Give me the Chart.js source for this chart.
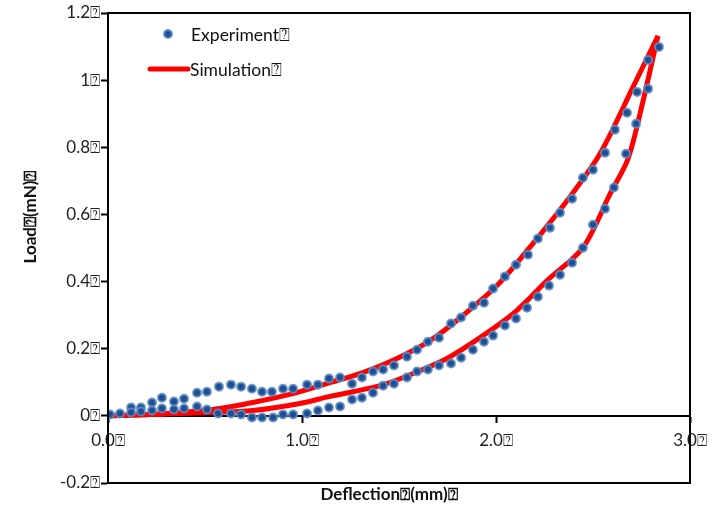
<!DOCTYPE html>
<html>
<head>
<meta charset="utf-8">
<script src="https://cdn.jsdelivr.net/npm/chart.js@4.4.1/dist/chart.umd.min.js"></script>
<style>
  html, body { margin: 0; padding: 0; background: #fff; }
</style>
</head>
<body>
<canvas id="hysteresis" width="712" height="506"></canvas>
<script>
// Measured load-deflection loop (loading branch then unloading branch)
const expLoadX = [0.010, 0.062, 0.119, 0.170, 0.227, 0.278, 0.340, 0.392, 0.459, 0.510, 0.572, 0.634, 0.686, 0.742, 0.794, 0.845, 0.902, 0.954, 1.026, 1.082, 1.139, 1.196, 1.258, 1.309, 1.366, 1.418, 1.474, 1.541, 1.593, 1.649, 1.706, 1.768, 1.820, 1.881, 1.938, 1.985, 2.046, 2.103, 2.165, 2.216, 2.278, 2.330, 2.392, 2.448, 2.500, 2.562, 2.613, 2.675, 2.727, 2.784, 2.840];
const expLoadY = [0.004, 0.007, 0.025, 0.025, 0.040, 0.054, 0.043, 0.051, 0.069, 0.072, 0.087, 0.093, 0.087, 0.081, 0.072, 0.072, 0.081, 0.081, 0.093, 0.093, 0.111, 0.114, 0.096, 0.114, 0.132, 0.138, 0.150, 0.176, 0.197, 0.221, 0.233, 0.275, 0.293, 0.328, 0.337, 0.379, 0.415, 0.450, 0.480, 0.528, 0.560, 0.605, 0.647, 0.709, 0.733, 0.784, 0.852, 0.903, 0.965, 1.060, 1.099];
const expUnloadX = [2.784, 2.722, 2.670, 2.608, 2.562, 2.500, 2.448, 2.392, 2.330, 2.273, 2.216, 2.160, 2.103, 2.046, 1.985, 1.938, 1.881, 1.820, 1.768, 1.706, 1.649, 1.593, 1.541, 1.474, 1.418, 1.366, 1.309, 1.258, 1.196, 1.139, 1.082, 1.026, 0.954, 0.902, 0.851, 0.794, 0.742, 0.686, 0.634, 0.567, 0.510, 0.459, 0.392, 0.340, 0.278, 0.227, 0.170, 0.119];
const expUnloadY = [0.974, 0.870, 0.781, 0.680, 0.617, 0.569, 0.501, 0.456, 0.420, 0.388, 0.355, 0.322, 0.290, 0.269, 0.239, 0.221, 0.197, 0.173, 0.156, 0.150, 0.138, 0.132, 0.114, 0.096, 0.090, 0.069, 0.054, 0.049, 0.028, 0.025, 0.016, 0.007, 0.004, 0.004, -0.005, -0.005, -0.005, 0.004, 0.007, 0.007, 0.019, 0.028, 0.022, 0.019, 0.022, 0.016, 0.013, 0.010];

// Simulated loop
const simLoadX = [0, 0.216, 0.541, 0.747, 0.954, 1.144, 1.314, 1.490, 1.660, 1.830, 2.005, 2.160, 2.366, 2.536, 2.706, 2.835];
const simLoadY = [0, 0.004, 0.019, 0.040, 0.066, 0.099, 0.129, 0.171, 0.224, 0.299, 0.388, 0.492, 0.641, 0.781, 0.979, 1.132];
const simUnloadX = [2.835, 2.742, 2.680, 2.588, 2.448, 2.263, 2.175, 2.088, 1.918, 1.747, 1.572, 1.402, 1.144, 0.990, 0.747, 0.526, 0];
const simUnloadY = [1.132, 0.899, 0.765, 0.661, 0.501, 0.403, 0.352, 0.304, 0.233, 0.171, 0.126, 0.090, 0.058, 0.037, 0.016, 0.010, 0];

// Axis ticks
const xTickValues = [0, 1, 2, 3];
const xTickLabels = ['0.0', '1.0', '2.0', '3.0'];
const yTickValues = [-0.2, 0, 0.2, 0.4, 0.6, 0.8, 1, 1.2];
const yTickLabels = ['-0.2', '0', '0.2', '0.4', '0.6', '0.8', '1', '1.2'];

const MARK = '\u2370';
const FONT = 'Lato, "Open Sans", sans-serif';

function zip(xs, ys) {
    return xs.map((x, i) => ({ x: x, y: ys[i] }));
}

// Box around the plot area
const frame = {
    id: 'frame',
    afterDraw(chart) {
        const a = chart.chartArea, ctx = chart.ctx;
        ctx.save();
        ctx.strokeStyle = '#000';
        ctx.lineWidth = 2;
        ctx.strokeRect(a.left, a.top, a.right - a.left, a.bottom - a.top);
        ctx.restore();
    }
};

// Axis titles, placed a bit off centre like the original figure
const axisTitles = {
    id: 'axisTitles',
    afterDraw(chart) {
        const a = chart.chartArea, ctx = chart.ctx;
        ctx.save();
        ctx.fillStyle = '#111';
        ctx.font = 'bold 17px ' + FONT;
        ctx.textAlign = 'center';
        ctx.textBaseline = 'middle';
        ctx.fillText('Deflection' + MARK + '(mm)' + MARK, (a.left + a.right) / 2 - 10, a.bottom + 12);
        ctx.translate(31, (a.top + a.bottom) / 2 - 31);
        ctx.rotate(-Math.PI / 2);
        ctx.fillText('Load' + MARK + '(mN)' + MARK, 0, 0);
        ctx.restore();
    }
};

// Legend sitting inside the plot, top left
const innerLegend = {
    id: 'innerLegend',
    afterDraw(chart) {
        const a = chart.chartArea, ctx = chart.ctx;
        const px = a.left + 60, py = a.top + 21;
        ctx.save();
        ctx.beginPath();
        ctx.arc(px, py, 4, 0, Math.PI * 2);
        ctx.fillStyle = '#1f4f8f';
        ctx.fill();
        ctx.lineWidth = 2;
        ctx.strokeStyle = 'rgba(95,140,200,0.85)';
        ctx.stroke();

        ctx.beginPath();
        ctx.moveTo(a.left + 42, py + 35);
        ctx.lineTo(a.left + 80, py + 35);
        ctx.lineWidth = 5;
        ctx.lineCap = 'round';
        ctx.strokeStyle = '#ff0000';
        ctx.stroke();

        ctx.fillStyle = '#111';
        ctx.font = '17.5px ' + FONT;
        ctx.textBaseline = 'middle';
        ctx.fillText('Experiment' + MARK, a.left + 83, py + 1);
        ctx.fillText('Simulation' + MARK, a.left + 82, py + 36);
        ctx.restore();
    }
};

const ctx = document.getElementById('hysteresis').getContext('2d');
new Chart(ctx, {
    type: 'scatter',
    data: {
        datasets: [{
            label: 'Experiment',
            data: zip(expLoadX, expLoadY).concat(zip(expUnloadX, expUnloadY)),
            pointRadius: 4,
            pointBorderWidth: 2,
            pointBackgroundColor: '#1f4f8f',
            pointBorderColor: 'rgba(95,140,200,0.85)',
            order: 0
        }, {
            label: 'Simulation',
            data: zip(simLoadX, simLoadY),
            showLine: true,
            pointRadius: 0,
            borderColor: '#ff0000',
            borderWidth: 5,
            tension: 0.3,
            order: 1
        }, {
            label: 'Simulation unload',
            data: zip(simUnloadX, simUnloadY),
            showLine: true,
            pointRadius: 0,
            borderColor: '#ff0000',
            borderWidth: 5,
            tension: 0.3,
            order: 1
        }]
    },
    options: {
        responsive: false,
        animation: false,
        layout: { padding: { top: 13, right: 22, left: 0, bottom: 23 } },
        plugins: {
            legend: { display: false },
            tooltip: { enabled: false }
        },
        scales: {
            x: {
                type: 'linear',
                position: { y: 0 },
                min: 0,
                max: 3,
                afterBuildTicks: s => { s.ticks = xTickValues.map(v => ({ value: v })); },
                // let the last label hang over the right edge instead of shrinking the plot
                afterFit: s => { s.paddingLeft = 0; s.paddingRight = 0; },
                ticks: {
                    callback: (v, i) => xTickLabels[i] + MARK,
                    font: { family: FONT, size: 17 },
                    color: '#222',
                    maxRotation: 0,
                    padding: 8
                },
                grid: { drawOnChartArea: false, tickLength: 6, tickColor: '#000', tickWidth: 2 },
                border: { color: '#000', width: 2 }
            },
            y: {
                type: 'linear',
                position: 'left',
                min: -0.2,
                max: 1.2,
                afterBuildTicks: s => { s.ticks = yTickValues.map(v => ({ value: v })); },
                afterFit: s => { s.width = 108; },
                ticks: {
                    callback: (v, i) => yTickLabels[i] + MARK,
                    font: { family: FONT, size: 17 },
                    color: '#222',
                    padding: 1
                },
                grid: { drawOnChartArea: false, tickLength: 7, tickColor: '#000', tickWidth: 2 },
                border: { color: '#000', width: 2 }
            }
        }
    },
    plugins: [frame, axisTitles, innerLegend]
});
</script>
</body>
</html>
